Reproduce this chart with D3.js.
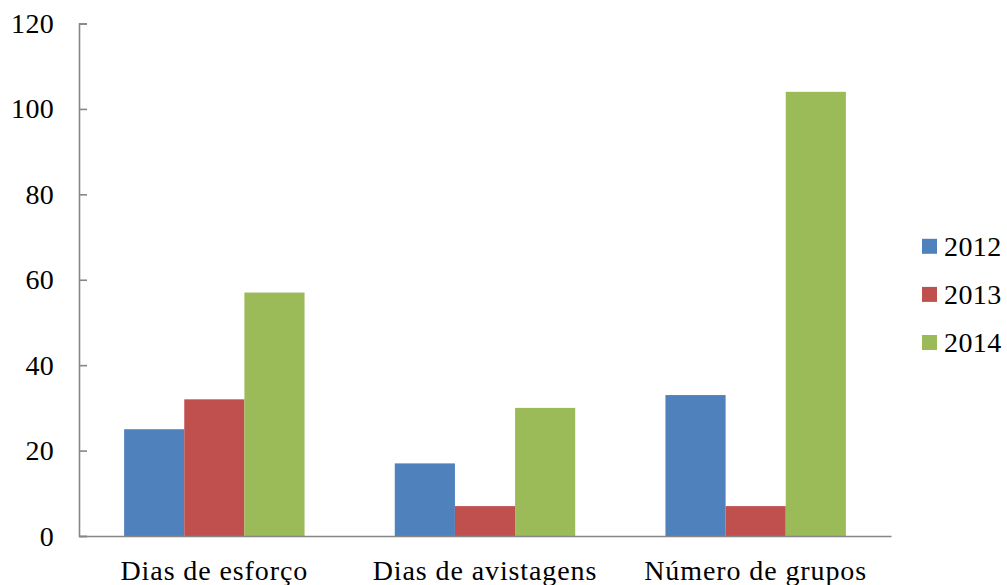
<!DOCTYPE html>
<html>
<head>
<meta charset="utf-8">
<script src="https://cdn.jsdelivr.net/npm/d3@7"></script>
<style>
  html, body { margin: 0; padding: 0; background: #fff; }
  svg { display: block; }
  text { font-family: "Liberation Serif", "Times New Roman", serif; fill: #000; }
</style>
</head>
<body>
<svg id="chart" width="1007" height="585"></svg>
<script>
// Field effort summary per year
const categories = ["Dias de esforço", "Dias de avistagens", "Número de grupos"];
const years = ["2012", "2013", "2014"];
const values2012 = [25, 17, 33];
const values2013 = [32, 7, 7];
const values2014 = [57, 30, 104];
const yTicks = [0, 20, 40, 60, 80, 100, 120];
const colors = ["#4F81BD", "#C0504D", "#9BBB59"];

const seriesValues = [values2012, values2013, values2014];

const svg = d3.select("#chart");
const plot = { left: 79, right: 891, top: 23.5, bottom: 536 };
const fontSize = 28;

const x0 = d3.scaleBand()
  .domain(categories)
  .range([plot.left, plot.right])
  .paddingInner(1 / 3)
  .paddingOuter(1 / 6);

const x1 = d3.scaleBand()
  .domain(years)
  .range([0, x0.bandwidth()]);

const y = d3.scaleLinear()
  .domain([0, 120])
  .range([plot.bottom, plot.top]);

// Bars
const groups = svg.append("g")
  .selectAll("g")
  .data(categories)
  .join("g")
  .attr("transform", d => `translate(${x0(d)},0)`);

groups.selectAll("rect")
  .data((c, i) => years.map((yr, s) => ({ yr, s, v: seriesValues[s][i] })))
  .join("rect")
  .attr("x", d => x1(d.yr))
  .attr("width", x1.bandwidth())
  .attr("y", d => y(d.v))
  .attr("height", d => y(0) - y(d.v))
  .attr("fill", d => colors[d.s]);

// Y axis: ticks pointing inward
const yAxis = svg.append("g")
  .attr("transform", `translate(${plot.left},0)`)
  .call(d3.axisRight(y).tickValues(yTicks).tickSize(8).tickFormat(""));
yAxis.select(".domain").attr("stroke", "#868686").attr("stroke-width", 1.6);
yAxis.selectAll(".tick line").attr("stroke", "#868686").attr("stroke-width", 1.6);

svg.append("g")
  .selectAll("text")
  .data(yTicks)
  .join("text")
  .attr("x", 54)
  .attr("y", d => y(d))
  .attr("dy", "0.34em")
  .attr("text-anchor", "end")
  .style("font-size", fontSize + "px")
  .style("letter-spacing", "0.3px")
  .text(d => d);

// X axis line (no ticks)
const xAxis = svg.append("g")
  .attr("transform", `translate(0,${plot.bottom})`)
  .call(d3.axisBottom(x0).tickSize(0).tickFormat(""));
xAxis.select(".domain").attr("stroke", "#868686").attr("stroke-width", 1.6);

svg.append("g")
  .selectAll("text")
  .data(categories)
  .join("text")
  .attr("x", d => x0(d) + x0.bandwidth() / 2)
  .attr("y", 579.5)
  .attr("text-anchor", "middle")
  .style("font-size", fontSize + "px")
  .style("letter-spacing", "0.9px")
  .text(d => d);

// Legend
const legend = svg.append("g")
  .selectAll("g")
  .data(years)
  .join("g")
  .attr("transform", (d, i) => `translate(922,${246.3 + i * 48.1})`);

legend.append("rect")
  .attr("x", 0)
  .attr("y", -7.5)
  .attr("width", 15)
  .attr("height", 15)
  .attr("fill", (d, i) => colors[i]);

legend.append("text")
  .attr("x", 22)
  .attr("y", 0)
  .attr("dy", "0.34em")
  .style("font-size", fontSize + "px")
  .style("letter-spacing", "0.4px")
  .text(d => d);
</script>
</body>
</html>
